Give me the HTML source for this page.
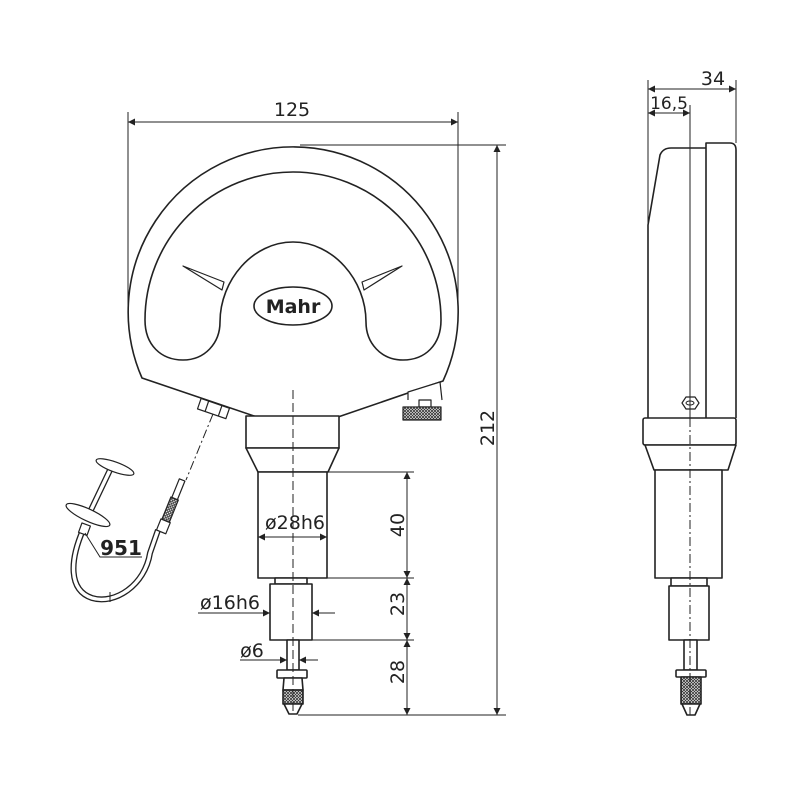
<!DOCTYPE html>
<html><head><meta charset="utf-8"><style>
html,body{margin:0;padding:0;background:#fff}
svg{display:block}
text{font-family:"DejaVu Sans","Liberation Sans",sans-serif;fill:#222}
</style></head><body>
<svg width="800" height="800" viewBox="0 0 800 800" xmlns="http://www.w3.org/2000/svg">
<defs>
<marker id="a" viewBox="0 0 10 10" refX="10" refY="5" markerWidth="9" markerHeight="7" orient="auto-start-reverse" markerUnits="userSpaceOnUse"><path d="M0,0 L10,5 L0,10 z" fill="#222"/></marker>
<pattern id="k" width="3" height="3" patternUnits="userSpaceOnUse"><rect width="3" height="3" fill="#fff"/><path d="M0,0L3,3M3,0L0,3" stroke="#333" stroke-width="0.8"/></pattern>
</defs>
<g fill="none" stroke="#222" stroke-width="1">
<line x1="128" y1="112" x2="128" y2="315"/>
<line x1="458" y1="112" x2="458" y2="300"/>
<line x1="128" y1="122" x2="458" y2="122" marker-start="url(#a)" marker-end="url(#a)"/>
<line x1="300" y1="145" x2="506" y2="145"/>
<line x1="497" y1="145" x2="497" y2="715" marker-start="url(#a)" marker-end="url(#a)"/>
<line x1="298" y1="715" x2="506" y2="715"/>
<line x1="327" y1="472" x2="414" y2="472"/>
<line x1="327" y1="578" x2="414" y2="578"/>
<line x1="312" y1="640" x2="414" y2="640"/>
<line x1="407" y1="472" x2="407" y2="578" marker-start="url(#a)" marker-end="url(#a)"/>
<line x1="407" y1="578" x2="407" y2="640" marker-start="url(#a)" marker-end="url(#a)"/>
<line x1="407" y1="640" x2="407" y2="715" marker-start="url(#a)" marker-end="url(#a)"/>
</g>
<g fill="#fff" stroke="#222" stroke-width="1.6" stroke-linejoin="round">
<path d="M142,378 A165,165 0 1 1 443,381 L338,417 L257,417 Z"/>
<path d="M145,320 A148,148 0 0 1 441,320 C441,345 425,360 403,360 C381,360 366,343 366,322 C366,280 333,242 293,242 C253,242 220,280 220,322 C220,343 205,360 183,360 C161,360 145,345 145,320 Z"/>
<path d="M183,266 L224,282 L222,290 Z" stroke-width="1.2"/>
<path d="M402,266 L362,282 L364,290 Z" stroke-width="1.2"/>
<ellipse cx="293" cy="306" rx="39" ry="19"/>
<path d="M408,400 L408,392 L440,382 L442,400" stroke-width="1.2"/>
<rect x="419" y="400" width="12" height="7" stroke-width="1.2"/>
<rect x="403" y="407" width="38" height="13" fill="url(#k)" stroke-width="1.2"/>
<g transform="rotate(19 213 410)"><rect x="198" y="403" width="30" height="11" stroke-width="1.2"/><line x1="206" y1="403" x2="206" y2="414" stroke-width="1.2"/><line x1="220" y1="403" x2="220" y2="414" stroke-width="1.2"/></g>
<rect x="246" y="416" width="93" height="32"/>
<path d="M246,448 L339,448 L328,472 L258,472 Z"/>
<rect x="258" y="472" width="69" height="106"/>
<rect x="275" y="578" width="32" height="6"/>
<rect x="270" y="584" width="42" height="56"/>
<rect x="287" y="640" width="12" height="30"/>
<rect x="277" y="670" width="30" height="8" rx="1"/>
<path d="M284,678 L302,678 L303,690 L283,690 Z"/>
<rect x="283" y="690" width="20" height="14" fill="url(#k)"/>
<path d="M284,704 L302,704 L297,714 L289,714 Z"/>
<!-- cable -->
<path d="M83,530 C70,560 68,590 92,598 C115,605 145,585 150,553 L158,530" fill="none" stroke-width="6" stroke="#222"/>
<path d="M83,530 C70,560 68,590 92,598 C115,605 145,585 150,553 L158,530" fill="none" stroke-width="3.4" stroke="#fff"/>
<line x1="110" y1="592" x2="110" y2="602" stroke-width="1"/>
<g transform="rotate(22 172 505)">
<rect x="167" y="522" width="10" height="12" stroke-width="1.2"/>
<rect x="168" y="498" width="8" height="24" fill="url(#k)" stroke-width="1.2"/>
<rect x="169" y="478" width="6" height="20" stroke-width="1.2"/>
</g>
<line x1="110" y1="470" x2="90" y2="512" stroke-width="6"/>
<line x1="110" y1="470" x2="90" y2="512" stroke-width="3.4" stroke="#fff"/>
<ellipse cx="115" cy="467" rx="20" ry="5" transform="rotate(20 115 467)" stroke-width="1.2"/>
<ellipse cx="88" cy="515" rx="24" ry="6" transform="rotate(25 88 515)" stroke-width="1.2"/>
<rect x="80" y="524" width="9" height="10" transform="rotate(20 84 529)" stroke-width="1.2"/>
<!-- side view -->
<path d="M648,418 L648,225 L660,155 Q663,148 671,148 L706,148"/>
<path d="M706,418 L706,143 L730,143 Q736,143 736,150 L736,418"/>
<rect x="643" y="418" width="93" height="27" rx="2"/>
<path d="M645,445 L736,445 L728,470 L654,470 Z"/>
<rect x="655" y="470" width="67" height="108"/>
<rect x="671" y="578" width="36" height="8"/>
<rect x="669" y="586" width="40" height="54"/>
<rect x="684" y="640" width="13" height="30"/>
<rect x="676" y="670" width="30" height="7" rx="1"/>
<rect x="681" y="677" width="20" height="27" fill="url(#k)"/>
<path d="M682,704 L700,704 L695,715 L687,715 Z"/>
<path d="M682,403 L686,397 L695,397 L699,403 L695,409 L686,409 Z" stroke-width="1.2"/>
<ellipse cx="690" cy="403" rx="4" ry="2" stroke-width="1"/>
</g>
<g fill="none" stroke="#222" stroke-width="1">
<line x1="293" y1="390" x2="293" y2="715" stroke-dasharray="9,4"/>
<line x1="213" y1="414" x2="186" y2="480" stroke-dasharray="9,3,2,3"/>
<line x1="258" y1="537" x2="327" y2="537" marker-start="url(#a)" marker-end="url(#a)"/>
<line x1="198" y1="613" x2="270" y2="613" marker-end="url(#a)"/>
<line x1="335" y1="613" x2="312" y2="613" marker-end="url(#a)"/>
<line x1="240" y1="660" x2="287" y2="660" marker-end="url(#a)"/>
<line x1="318" y1="660" x2="299" y2="660" marker-end="url(#a)"/>
<polyline points="85,533 100,557 142,557"/>
<line x1="648" y1="80" x2="648" y2="225"/>
<line x1="736" y1="80" x2="736" y2="143"/>
<line x1="648" y1="89" x2="736" y2="89" marker-start="url(#a)" marker-end="url(#a)"/>
<line x1="648" y1="113" x2="690" y2="113" marker-start="url(#a)" marker-end="url(#a)"/>
<line x1="690" y1="105" x2="690" y2="418"/>
<line x1="690" y1="418" x2="690" y2="715" stroke-dasharray="9,3,2,3"/>
</g>
<g font-size="19">
<text x="292" y="116" text-anchor="middle">125</text>
<text x="713" y="85" text-anchor="middle">34</text>
<text x="669" y="109" text-anchor="middle" font-size="17">16,5</text>
<text x="295" y="529" text-anchor="middle">ø28h6</text>
<text x="230" y="609" text-anchor="middle">ø16h6</text>
<text x="252" y="657" text-anchor="middle">ø6</text>
<text transform="translate(404,525) rotate(-90)" text-anchor="middle">40</text>
<text transform="translate(404,604) rotate(-90)" text-anchor="middle">23</text>
<text transform="translate(404,672) rotate(-90)" text-anchor="middle">28</text>
<text transform="translate(494,428) rotate(-90)" text-anchor="middle">212</text>
<text x="121" y="555" text-anchor="middle" font-weight="bold" font-size="20">951</text>
<text x="293" y="313" text-anchor="middle" font-weight="bold" font-size="19">Mahr</text>
</g>
</svg>
</body></html>
